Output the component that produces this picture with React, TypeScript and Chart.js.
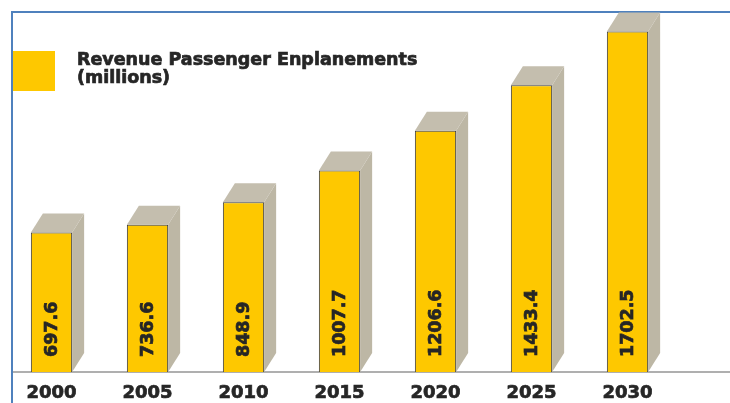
import React, { useEffect, useRef } from "react";
import { Chart, registerables } from "chart.js";

Chart.register(...registerables);

const years = ["2000", "2005", "2010", "2015", "2020", "2025", "2030"];
const enplanements = [697.6, 736.6, 848.9, 1007.7, 1206.6, 1433.4, 1702.5];
const legendLines = ["Revenue Passenger Enplanements", "(millions)"];

const FONT = "'DejaVu Sans', sans-serif";
const DX = 12;
const DY = -19;
const INK = "#262626";

function heavyText(ctx: any, text: string, x: number, y: number) {
  ctx.fillText(text, x, y);
  ctx.strokeText(text, x, y);
}

const framePlugin = {
  id: "frame",
  beforeDraw(chart: any) {
    const ctx = chart.ctx;
    ctx.save();
    ctx.strokeStyle = "#4f81bd";
    ctx.lineWidth = 2;
    ctx.beginPath();
    ctx.moveTo(12, 403);
    ctx.lineTo(12, 12);
    ctx.lineTo(730, 12);
    ctx.stroke();
    const y = chart.scales.y.getPixelForValue(0);
    ctx.strokeStyle = "#959595";
    ctx.lineWidth = 1.5;
    ctx.beginPath();
    ctx.moveTo(13, y);
    ctx.lineTo(730, y);
    ctx.stroke();
    ctx.restore();
  },
  beforeDatasetsDraw(chart: any) {
    const ctx = chart.ctx;
    const meta = chart.getDatasetMeta(0);
    ctx.save();
    meta.data.forEach((bar: any) => {
      const left = bar.x - bar.width / 2;
      const right = bar.x + bar.width / 2;
      const top = bar.y;
      const base = bar.base;
      ctx.fillStyle = "#bdb7a5";
      ctx.beginPath();
      ctx.moveTo(right, top);
      ctx.lineTo(right + DX, top + DY);
      ctx.lineTo(right + DX, base + DY);
      ctx.lineTo(right, base);
      ctx.closePath();
      ctx.fill();
      ctx.fillStyle = "#c4beae";
      ctx.beginPath();
      ctx.moveTo(left, top);
      ctx.lineTo(left + DX, top + DY);
      ctx.lineTo(right + DX, top + DY);
      ctx.lineTo(right, top);
      ctx.closePath();
      ctx.fill();
    });
    ctx.restore();
  },
  afterDatasetsDraw(chart: any) {
    const ctx = chart.ctx;
    const meta = chart.getDatasetMeta(0);
    const values = chart.data.datasets[0].data;
    ctx.save();
    ctx.fillStyle = INK;
    ctx.strokeStyle = INK;
    ctx.lineWidth = 0.7;
    ctx.font = "bold 17.5px " + FONT;
    ctx.textAlign = "left";
    ctx.textBaseline = "middle";
    meta.data.forEach((bar: any, i: number) => {
      ctx.save();
      ctx.translate(bar.x + 0.5, bar.base - 15);
      ctx.rotate(-Math.PI / 2);
      heavyText(ctx, String(values[i].toFixed(1)), 0, 0);
      ctx.restore();
    });
    ctx.fillStyle = "#fec800";
    ctx.fillRect(13, 51, 42, 40);
    ctx.fillStyle = INK;
    ctx.font = "bold 17.5px " + FONT;
    ctx.textBaseline = "alphabetic";
    heavyText(ctx, legendLines[0], 77, 64.5);
    heavyText(ctx, legendLines[1], 77, 82.5);
    ctx.restore();
  },
};

export default function App() {
  const ref = useRef<HTMLCanvasElement | null>(null);
  useEffect(() => {
    if (!ref.current) return;
    const chart = new Chart(ref.current, {
      type: "bar",
      data: {
        labels: years,
        datasets: [
          {
            label: legendLines.join(" "),
            data: enplanements,
            backgroundColor: "#fec800",
            borderColor: "#3a3a3a",
            borderWidth: 1,
            barPercentage: 0.86,
            categoryPercentage: 0.5,
          },
        ],
      },
      options: {
        responsive: false,
        animation: false,
        devicePixelRatio: 1,
        layout: { padding: { left: 3.5, right: 54.5, top: 12, bottom: 0 } },
        plugins: {
          legend: { display: false },
          tooltip: { enabled: false },
        },
        scales: {
          x: {
            grid: { display: false, drawTicks: false },
            border: { display: false },
            ticks: {
              color: INK,
              textStrokeColor: INK,
              textStrokeWidth: 0.7,
              font: { family: FONT, size: 18, weight: "bold" },
              padding: 11,
              maxRotation: 0,
            },
            afterFit: (scale: any) => {
              scale.height = 31;
            },
          },
          y: {
            display: false,
            min: 0,
            max: 1800,
          },
        },
      },
      plugins: [framePlugin],
    });
    return () => chart.destroy();
  }, []);
  return (
    <div style={{ position: "fixed", left: 0, top: 0, width: 730, height: 403, background: "#fff" }}>
      <canvas ref={ref} width={730} height={403} style={{ width: 730, height: 403 }} />
    </div>
  );
}
